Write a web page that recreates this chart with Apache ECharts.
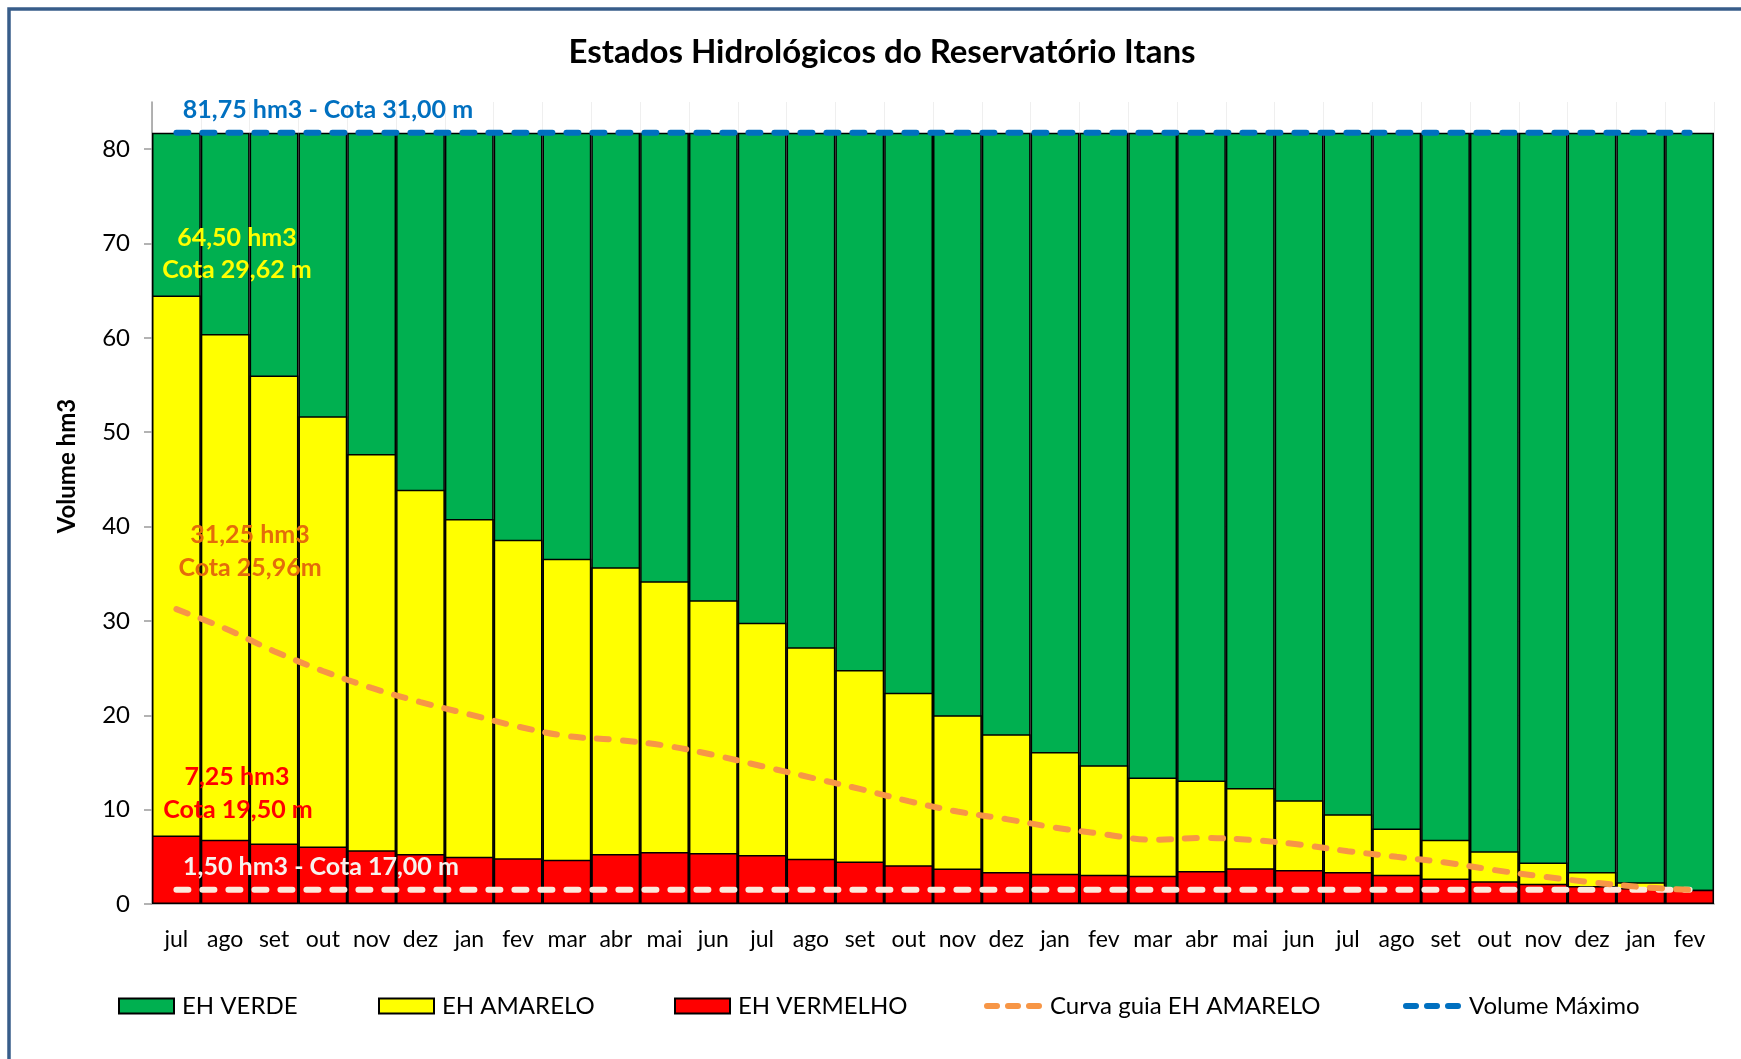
<!DOCTYPE html>
<html>
<head>
<meta charset="utf-8">
<title>Estados Hidrológicos do Reservatório Itans</title>
<script src="https://cdn.jsdelivr.net/npm/echarts@6/dist/echarts.min.js"></script>
<style>
  html, body { margin: 0; padding: 0; background: #fff; }
  #chart { width: 1741px; height: 1059px; }
</style>
</head>
<body>
<div id="chart"></div>
<script>
// meses jul .. fev (32 meses)
const meses = [
  'jul', 'ago', 'set', 'out', 'nov', 'dez', 'jan', 'fev', 'mar', 'abr', 'mai', 'jun',
  'jul', 'ago', 'set', 'out', 'nov', 'dez', 'jan', 'fev', 'mar', 'abr', 'mai', 'jun',
  'jul', 'ago', 'set', 'out', 'nov', 'dez', 'jan', 'fev'
]
// topo do EH VERDE = volume máximo
const volumeMaximo = [
  81.75, 81.75, 81.75, 81.75, 81.75, 81.75, 81.75, 81.75, 81.75, 81.75, 81.75, 81.75,
  81.75, 81.75, 81.75, 81.75, 81.75, 81.75, 81.75, 81.75, 81.75, 81.75, 81.75, 81.75,
  81.75, 81.75, 81.75, 81.75, 81.75, 81.75, 81.75, 81.75
]
// topo do EH AMARELO
const limiteAmarelo = [
  64.5, 60.4, 56.0, 51.7, 47.7, 43.9, 40.8, 38.6, 36.6, 35.7, 34.2, 32.2,
  29.8, 27.2, 24.8, 22.4, 20.0, 18.0, 16.1, 14.7, 13.4, 13.1, 12.3, 11.0,
  9.5, 8.0, 6.8, 5.6, 4.4, 3.4, 2.3, 1.5
]
// topo do EH VERMELHO
const limiteVermelho = [
  7.25, 6.8, 6.4, 6.1, 5.7, 5.3, 5.0, 4.85, 4.7, 5.3, 5.5, 5.4,
  5.2, 4.8, 4.5, 4.1, 3.75, 3.4, 3.2, 3.1, 3.0, 3.5, 3.8, 3.6,
  3.4, 3.1, 2.7, 2.4, 2.15, 1.9, 1.7, 1.5
]
const curvaGuia = [
  31.25, 29.2, 26.8, 24.7, 22.9, 21.4, 20.1, 18.8, 17.8, 17.4, 16.8, 15.8,
  14.6, 13.4, 12.2, 10.9, 9.8, 9.0, 8.1, 7.4, 6.8, 7.0, 6.8, 6.3,
  5.6, 5.0, 4.4, 3.6, 2.9, 2.3, 1.8, 1.5
]
// 1,50 hm3 - Cota 17,00 m
const volumeMinimo = [
  1.5, 1.5, 1.5, 1.5, 1.5, 1.5, 1.5, 1.5, 1.5, 1.5, 1.5, 1.5,
  1.5, 1.5, 1.5, 1.5, 1.5, 1.5, 1.5, 1.5, 1.5, 1.5, 1.5, 1.5,
  1.5, 1.5, 1.5, 1.5, 1.5, 1.5, 1.5, 1.5
]
const ticksY = [0, 10, 20, 30, 40, 50, 60, 70, 80]

const fonte = 'Lato, "Open Sans", sans-serif'
const chart = echarts.init(document.getElementById('chart'))

// icone de legenda com 3 tracos arredondados
const iconeTracejado = 'path://M3,0h10a3,3 0 0 1 0,6h-10a3,3 0 0 1 0,-6z' +
  'M24,0h10a3,3 0 0 1 0,6h-10a3,3 0 0 1 0,-6z' +
  'M45,0h10a3,3 0 0 1 0,6h-10a3,3 0 0 1 0,-6z'

const barra = (name, data, color) => ({
  name,
  type: 'bar',
  data,
  barGap: '-100%',
  barCategoryGap: '0%',
  itemStyle: { color, borderColor: '#000', borderWidth: 1.5 },
  emphasis: { disabled: true }
})

const linha = (name, data, color, smooth) => ({
  name,
  type: 'line',
  data,
  smooth,
  symbol: 'none',
  itemStyle: { color },
  lineStyle: { color, width: 6, type: [12, 14], cap: 'round' },
  emphasis: { disabled: true }
})

const legenda = (name, left, tracejado) => ({
  data: [name],
  left,
  top: 994,
  padding: 0,
  icon: tracejado ? iconeTracejado : 'rect',
  itemWidth: tracejado ? 58 : 55,
  itemHeight: tracejado ? 6 : 15,
  itemGap: 0,
  selectedMode: false,
  textStyle: { fontFamily: fonte, fontSize: 24, color: '#000', padding: [0, 0, 0, 3] }
})

const texto = (text, x, y, fill, size, extra) => Object.assign({
  type: 'text',
  x, y,
  z: 100,
  silent: true,
  style: {
    text, fill,
    font: 'bold ' + (size || 25) + 'px ' + fonte,
    align: 'center',
    verticalAlign: 'middle'
  }
}, extra || {})

const option = {
  backgroundColor: '#fff',
  animation: false,
  grid: { left: 152, right: 27, top: 102, bottom: 155, outerBoundsMode: 'none' },
  legend: [
    legenda('EH VERDE', 118, false),
    legenda('EH AMARELO', 378, false),
    legenda('EH VERMELHO', 674, false),
    legenda('Curva guia EH AMARELO', 984, true),
    legenda('Volume Máximo', 1403, true)
  ],
  xAxis: {
    type: 'category',
    data: meses,
    axisLine: { lineStyle: { color: '#BFBFBF', width: 2 } },
    axisTick: { show: false },
    axisLabel: { fontFamily: fonte, fontSize: 23, color: '#000', margin: 24, interval: 0 },
    splitLine: { show: true, lineStyle: { color: '#EFEFEF', width: 1 } }
  },
  yAxis: {
    type: 'value',
    min: 0,
    max: 85,
    interval: 10,
    axisLine: { show: true, lineStyle: { color: '#9A9A9A', width: 1.5 } },
    axisTick: { show: true, length: 8, customValues: ticksY, lineStyle: { color: '#9A9A9A', width: 1.5 } },
    axisLabel: {
      fontFamily: fonte, fontSize: 24, color: '#000', margin: 22,
      customValues: ticksY,
      formatter: v => (v > 80 ? '' : v)
    },
    splitLine: { show: true, lineStyle: { color: '#E6E6E6', width: 1 } }
  },
  series: [
    barra('EH VERDE', volumeMaximo, '#00B050'),
    barra('EH AMARELO', limiteAmarelo, '#FFFF00'),
    barra('EH VERMELHO', limiteVermelho, '#FF0000'),
    linha('Limite EH VERMELHO', volumeMinimo, '#FCE9DC', false),
    linha('Curva guia EH AMARELO', curvaGuia, '#F79646', 0.35),
    linha('Volume Máximo', volumeMaximo, '#0070C0', false)
  ],
  graphic: [
    {
      type: 'rect',
      shape: { x: 9, y: 9, width: 1800, height: 1200 },
      style: { fill: 'none', stroke: '#385D8A', lineWidth: 3.5 },
      silent: true
    },
    texto('Estados Hidrológicos do Reservatório Itans', 882, 52, '#000', 33),
    texto('Volume hm3', 67, 466, '#000', 24, { rotation: Math.PI / 2 }),
    texto('81,75 hm3 - Cota 31,00 m', 328, 110, '#0070C0'),
    texto('64,50 hm3', 237, 238, '#FFFF00'),
    texto('Cota 29,62 m', 237, 270, '#FFFF00'),
    texto('31,25 hm3', 250, 535, '#E46C0A'),
    texto('Cota 25,96m', 250, 568, '#E46C0A'),
    texto('7,25 hm3', 237, 777, '#FF0000'),
    texto('Cota 19,50 m', 238, 810, '#FF0000'),
    texto('1,50 hm3 - Cota 17,00 m', 321, 867, '#F7F2EE')
  ]
}

chart.setOption(option)
</script>
</body>
</html>
